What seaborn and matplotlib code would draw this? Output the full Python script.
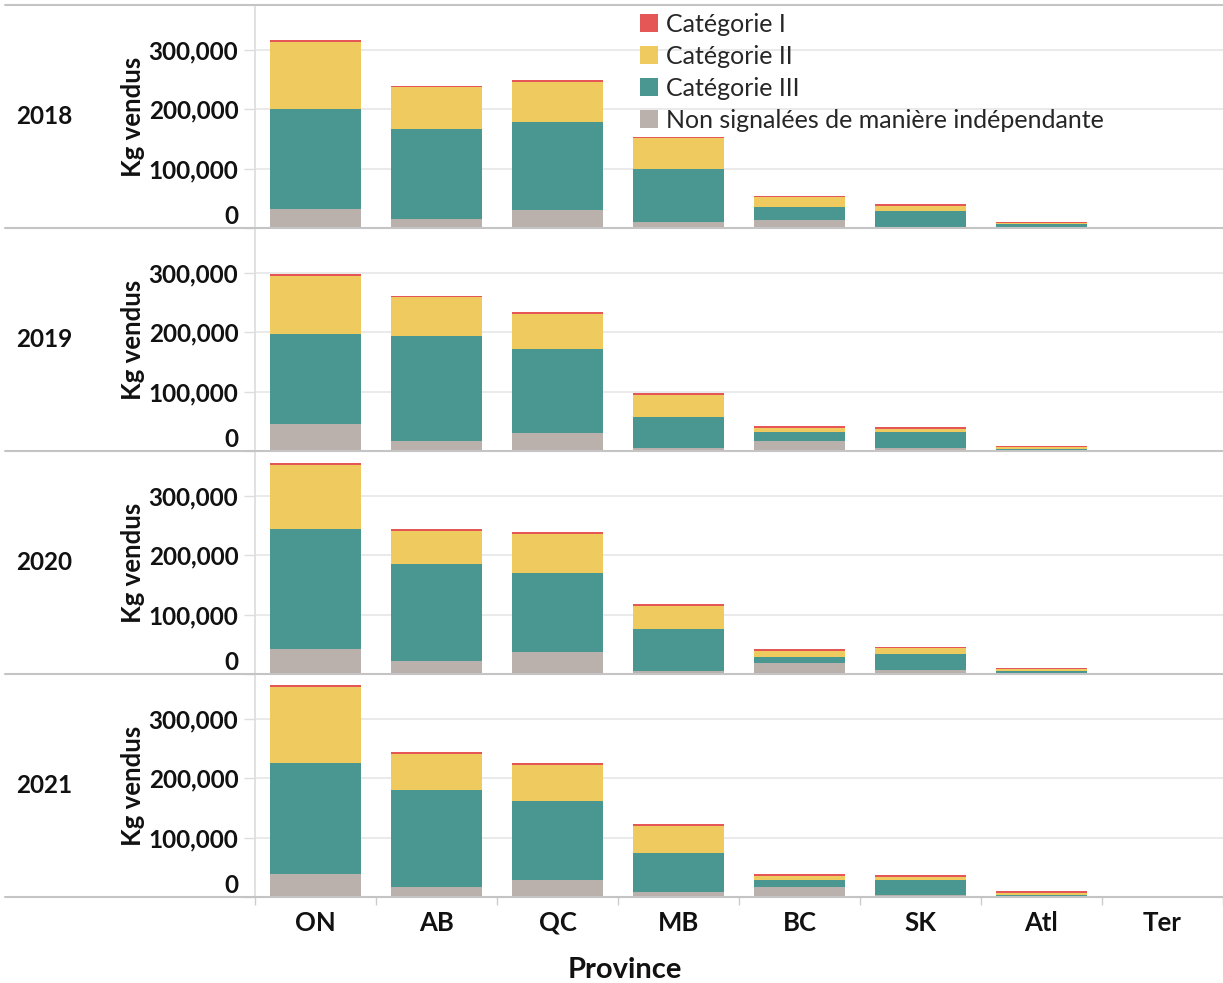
import numpy as np
import pandas as pd
import seaborn as sns
import matplotlib.pyplot as plt
from matplotlib.patches import Patch
from matplotlib.lines import Line2D

# data (kg sold)
provinces = ["ON", "AB", "QC", "MB", "BC", "SK", "Atl", "Ter"]
years = [2018, 2019, 2020, 2021]

non_signalees = [
    [32400, 15600, 30800, 9600, 13400, 2200, 1000, 0],
    [44800, 17300, 29700, 5500, 16700, 5500, 1000, 0],
    [41900, 22300, 37400, 5500, 18500, 6000, 1500, 0],
    [38700, 16800, 28000, 8400, 17400, 3900, 1000, 0],
]
cat_3 = [
    [167600, 150300, 147900, 89600, 21400, 26400, 5700, 0],
    [152000, 175700, 141400, 51200, 14500, 25700, 3000, 0],
    [201400, 163300, 133100, 70500, 10000, 26900, 4000, 0],
    [186500, 163500, 132800, 65000, 10600, 24100, 3000, 0],
]
cat_2 = [
    [113100, 70600, 66700, 51500, 16800, 8400, 1200, 0],
    [97300, 65400, 59300, 37800, 8300, 6000, 2500, 0],
    [108400, 54300, 64900, 38600, 10600, 10100, 2900, 0],
    [128200, 60000, 61600, 46500, 7800, 5600, 3000, 0],
]
cat_1 = [
    [3200, 2700, 2800, 2800, 3000, 2800, 2000, 0],
    [3500, 2800, 3000, 3000, 3000, 3000, 2200, 0],
    [3200, 3200, 3400, 2800, 3000, 3000, 2200, 0],
    [3200, 2900, 3000, 2800, 3000, 2800, 2400, 0],
]

labels = ["Catégorie I", "Catégorie II", "Catégorie III",
          "Non signalées de manière indépendante"]
colors = ["#e45756", "#eeca5f", "#4a9792", "#bab0ac"]

sns.set_theme(style="white")
plt.rcParams["font.family"] = ["Lato", "DejaVu Sans"]

W, H = 1223, 983
fig, axes = plt.subplots(4, 1, figsize=(W / 100, H / 100), dpi=100, sharex=True)
fig.subplots_adjust(left=255 / W, right=1.0, top=1 - 5 / H, bottom=1 - 897 / H, hspace=0)

for i, ax in enumerate(axes):
    df = pd.DataFrame({
        "province": provinces,
        "non": non_signalees[i],
        "c3": cat_3[i],
        "c2": cat_2[i],
        "c1": cat_1[i],
    })
    # cumulative heights, drawn tallest first so they stack
    df["s_non"] = df["non"]
    df["s_c3"] = df["s_non"] + df["c3"]
    df["s_c2"] = df["s_c3"] + df["c2"]
    df["s_c1"] = df["s_c2"] + df["c1"]
    for col, c in zip(["s_c1", "s_c2", "s_c3", "s_non"], colors):
        sns.barplot(data=df, x="province", y=col, order=provinces, color=c,
                    saturation=1, width=0.76, errorbar=None, linewidth=0, ax=ax)

    ax.set_xlim(-0.5, 7.5)
    ax.set_ylim(0, 375000)
    ax.set_yticks([0, 100000, 200000, 300000])
    ax.set_yticklabels(["0", "100,000", "200,000", "300,000"])
    ax.yaxis.grid(True, color="#e6e6e6", linewidth=1.2)
    ax.set_axisbelow(True)
    ax.tick_params(axis="y", left=True, length=8, width=1, color="#dddddd",
                   labelsize=17.5, pad=4, labelcolor="#111111")
    for t in ax.get_yticklabels():
        t.set_fontweight("bold")
    ax.yaxis.get_major_ticks()[0].label1.set_verticalalignment("bottom")
    for s in ["top", "right", "bottom"]:
        ax.spines[s].set_visible(False)
    ax.spines["left"].set_color("#dddddd")
    ax.set_ylabel("Kg vendus", fontsize=18.5, fontweight="bold", color="#111111")
    ax.yaxis.set_label_coords(-0.1136, 0.5)
    ax.set_xlabel("")
    ax.annotate(str(years[i]), xy=(16 / W, 0.5),
                xycoords=("figure fraction", "axes fraction"),
                ha="left", va="center", fontsize=17.5, fontweight="bold",
                color="#111111")

last = axes[-1]
last.set_xticks(range(len(provinces)))
last.set_xticklabels(provinces)
last.set_xticks(np.arange(-0.5, len(provinces), 1), minor=True)
last.tick_params(axis="x", which="major", length=0, labelsize=18.5, pad=10,
                 labelcolor="#111111")
last.tick_params(axis="x", which="minor", bottom=True, length=6, width=1,
                 color="#cccccc")
for t in last.get_xticklabels():
    t.set_fontweight("bold")

fig.text(625 / W, 1 - 970 / H, "Province", ha="center", va="center",
         fontsize=21, fontweight="bold", color="#111111")

# row separator lines
for y in [5, 228, 451, 674, 897]:
    fig.add_artist(Line2D([5 / W, 1.0], [1 - y / H, 1 - y / H],
                          transform=fig.transFigure, color="#c4c4c4", linewidth=1.5))

handles = [Patch(facecolor=c, edgecolor="none") for c in colors]
fig.legend(handles, labels, loc="upper left", bbox_to_anchor=(637 / W, 1 - 10 / H),
           frameon=False, fontsize=18, handlelength=0.75, handleheight=0.75,
           handletextpad=0.3, labelspacing=0.36, borderaxespad=0, borderpad=0.1)

fig.savefig("out.png", dpi=100)
